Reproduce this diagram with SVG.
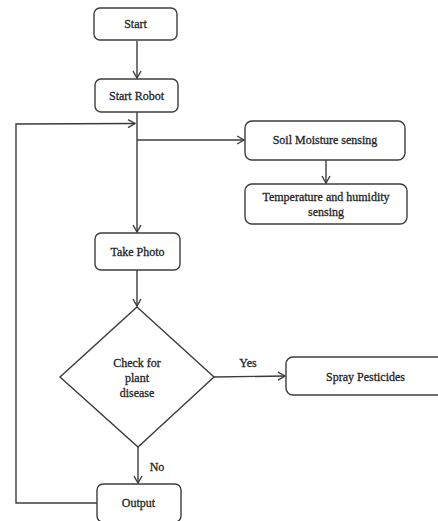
<svg xmlns="http://www.w3.org/2000/svg" width="438" height="521" viewBox="0 0 438 521">
<style>
.box{fill:#fff;stroke:#3c3c3c;stroke-width:1.4}
.ln{fill:none;stroke:#3c3c3c;stroke-width:1.4}
text{font-family:"Liberation Serif","Times New Roman",serif;font-size:12px;fill:#262626;stroke:#262626;stroke-width:0.3;text-anchor:middle}
</style>
<defs>
<marker id="arr" markerWidth="10" markerHeight="10" refX="8" refY="5" orient="auto" markerUnits="userSpaceOnUse">
<path d="M1,1 L8,5 L1,9" fill="none" stroke="#3c3c3c" stroke-width="1.4"/>
</marker>
</defs>
<rect width="438" height="521" fill="#fff"/>
<g id="connectors">
<line class="ln" x1="137" y1="41" x2="137" y2="78" marker-end="url(#arr)"/>
<line class="ln" x1="137" y1="112" x2="137" y2="232" marker-end="url(#arr)"/>
<line class="ln" x1="137" y1="140" x2="244" y2="140" marker-end="url(#arr)"/>
<line class="ln" x1="326" y1="160" x2="326" y2="183" marker-end="url(#arr)"/>
<line class="ln" x1="137" y1="270" x2="137" y2="306" marker-end="url(#arr)"/>
<line class="ln" x1="214" y1="377" x2="285" y2="376" marker-end="url(#arr)"/>
<line class="ln" x1="138" y1="447" x2="138" y2="483" marker-end="url(#arr)"/>
<polyline class="ln" points="97,503 16,503 16,124 135,123.5" marker-end="url(#arr)"/>
<text x="248" y="367">Yes</text>
<text x="157" y="471">No</text>
</g>
<g id="start"><rect class="box" x="94" y="8" width="83" height="32" rx="6"/><text x="135.5" y="28">Start</text></g>
<g id="start-robot"><rect class="box" x="95" y="79" width="83" height="33" rx="6"/><text x="136.5" y="100">Start Robot</text></g>
<g id="soil"><rect class="box" x="245" y="121" width="160" height="39" rx="7"/><text x="325" y="144">Soil Moisture sensing</text></g>
<g id="temp"><rect class="box" x="245" y="184" width="162" height="40" rx="7"/><text x="326" y="201">Temperature and humidity</text><text x="326" y="216">sensing</text></g>
<g id="take-photo"><rect class="box" x="95" y="233" width="85" height="37" rx="6"/><text x="137.5" y="256">Take Photo</text></g>
<g id="check"><polygon class="box" points="137,307 214,377 138,447 60,377"/><text x="137" y="367">Check for</text><text x="137" y="382">plant</text><text x="137" y="397">disease</text></g>
<g id="spray"><rect class="box" x="286" y="357" width="160" height="38" rx="7"/><text x="365.5" y="381">Spray Pesticides</text></g>
<g id="output"><rect class="box" x="97" y="484" width="84" height="38" rx="6"/><text x="138.5" y="507">Output</text></g>
</svg>
